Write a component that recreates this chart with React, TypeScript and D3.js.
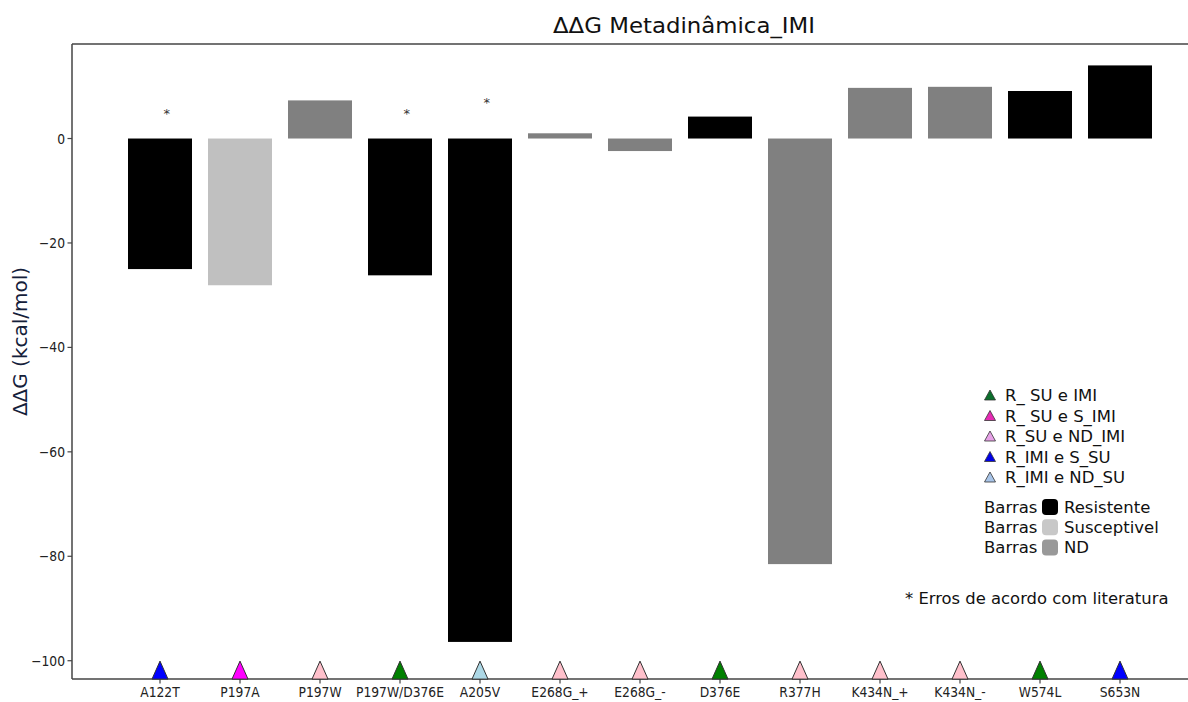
import React from "react";
import * as d3 from "d3";

// Mutations and their ΔΔG values (kcal/mol)
const categories = [
  "A122T", "P197A", "P197W", "P197W/D376E", "A205V", "E268G_+", "E268G_-",
  "D376E", "R377H", "K434N_+", "K434N_-", "W574L", "S653N",
];
const ddgValues = [-25.0, -28.1, 7.3, -26.2, -96.4, 1.0, -2.4, 4.2, -81.5, 9.7, 9.9, 9.1, 14.0];
// Bar class: R = Resistente, S = Susceptivel, ND = não determinado
const barClasses = ["R", "S", "ND", "R", "R", "ND", "ND", "R", "ND", "ND", "ND", "R", "R"];
// Resistance profile of each mutation (triangle marker on the axis)
const profiles = [
  "R_IMI e S_SU", "R_ SU e S_IMI", "R_SU e ND_IMI", "R_ SU e IMI", "R_IMI e ND_SU",
  "R_SU e ND_IMI", "R_SU e ND_IMI", "R_ SU e IMI", "R_SU e ND_IMI", "R_SU e ND_IMI",
  "R_SU e ND_IMI", "R_ SU e IMI", "R_IMI e S_SU",
];
// Mutations flagged as disagreeing with literature, and the height of the flag
const flaggedIdx = [0, 3, 4];
const flaggedY = [4, 4, 6];

const yTicks = [-100, -80, -60, -40, -20, 0];
const markerY = -101.8;

const legendProfiles = ["R_ SU e IMI", "R_ SU e S_IMI", "R_SU e ND_IMI", "R_IMI e S_SU", "R_IMI e ND_SU"];
const legendBars = ["Resistente", "Susceptivel", "ND"];

const barColor: Record<string, string> = { R: "#000000", S: "#c0c0c0", ND: "#808080" };
const markerColor: Record<string, string> = {
  "R_ SU e IMI": "#008000",
  "R_ SU e S_IMI": "#ff00ff",
  "R_SU e ND_IMI": "#ffc0cb",
  "R_IMI e S_SU": "#0000ff",
  "R_IMI e ND_SU": "#add8e6",
};
const legendMarkerColor: Record<string, string> = {
  "R_ SU e IMI": "#0b6e2c",
  "R_ SU e S_IMI": "#e62ab4",
  "R_SU e ND_IMI": "#e6a0e6",
  "R_IMI e S_SU": "#0000e6",
  "R_IMI e ND_SU": "#a8c4e8",
};
const legendBarColor: Record<string, string> = { Resistente: "#000000", Susceptivel: "#c8c8c8", ND: "#999999" };

const W = 1188;
const H = 702;
const FONT = "'DejaVu Sans', Verdana, sans-serif";

export default function App() {
  const left = 72, right = 1296, top = 44, bottom = 679;
  const x = d3.scaleLinear().domain([-1.1, 14.2]).range([left, right]);
  const y = d3.scaleLinear().domain([-103.5, 18.1]).range([bottom, top]);
  const barW = x(0.8) - x(0);

  const tri = (cx: number, cy: number, hw: number, hh: number) => {
    const p = d3.path();
    p.moveTo(cx, cy - hh);
    p.lineTo(cx + hw, cy + hh);
    p.lineTo(cx - hw, cy + hh);
    p.closePath();
    return p.toString();
  };

  const legX = 990;
  const legY0 = 395;
  const legStep = 20.5;
  const legFont = 16.5;

  return (
    <svg width={W} height={H} style={{ position: "absolute", left: 0, top: 0, background: "#fff" }}
      fontFamily={FONT}>
      <rect x={0} y={0} width={W} height={H} fill="#fff" />
      {/* title */}
      <text x={(left + right) / 2} y={33} textAnchor="middle" fontSize={22} fill="#111"
        textLength={262} lengthAdjust="spacingAndGlyphs">
        ΔΔG Metadinâmica_IMI
      </text>

      {/* bars */}
      {ddgValues.map((v, i) => (
        <rect key={categories[i]} x={x(i) - barW / 2} y={y(Math.max(0, v))}
          width={barW} height={Math.abs(y(v) - y(0))} fill={barColor[barClasses[i]]} />
      ))}

      {/* literature flags */}
      {flaggedIdx.map((idx, k) => (
        <text key={idx} x={x(idx) + 3.5} y={y(flaggedY[k])} fontSize={13} fill="#333">*</text>
      ))}

      {/* spines */}
      <line x1={left} x2={left} y1={top} y2={bottom} stroke="#444" strokeWidth={1.5} />
      <line x1={left} x2={right} y1={top} y2={top} stroke="#444" strokeWidth={1.5} />
      <line x1={left} x2={right} y1={bottom} y2={bottom} stroke="#444" strokeWidth={1.5} />

      {/* y axis */}
      {yTicks.map((t) => (
        <g key={t}>
          <line x1={left - 4.5} x2={left} y1={y(t)} y2={y(t)} stroke="#444" strokeWidth={1.2} />
          <text transform={`translate(${left - 7}, ${y(t) + 5}) scale(0.88, 1)`} textAnchor="end"
            fontSize={14} fill="#222">
            {t < 0 ? `\u2212${Math.abs(t)}` : `${t}`}
          </text>
        </g>
      ))}
      <text transform={`translate(27, ${(top + bottom) / 2 - 20}) rotate(-90)`} textAnchor="middle"
        fontSize={20} fill="#14203a">ΔΔG (kcal/mol)</text>

      {/* x axis */}
      {categories.map((c, i) => (
        <g key={c}>
          <line x1={x(i)} x2={x(i)} y1={bottom} y2={bottom + 4.5} stroke="#444" strokeWidth={1.2} />
          <text transform={`translate(${x(i)}, ${bottom + 18}) scale(0.88, 1)`} textAnchor="middle"
            fontSize={14} fill="#222">{c}</text>
        </g>
      ))}

      {/* profile markers */}
      {profiles.map((p, i) => (
        <path key={i} d={tri(x(i), y(markerY), 8, 9)} fill={markerColor[p]}
          stroke="#333" strokeWidth={1} strokeLinejoin="miter" />
      ))}

      {/* legend: profiles */}
      {legendProfiles.map((p, k) => (
        <g key={p}>
          <path d={tri(legX, legY0 + k * legStep, 5.5, 5)} fill={legendMarkerColor[p]} stroke="#333" strokeWidth={0.8} />
          <text x={legX + 15} y={legY0 + k * legStep + 6} fontSize={legFont} fill="#111">{p}</text>
        </g>
      ))}

      {/* legend: bar classes */}
      {legendBars.map((b, k) => {
        const cy = 507 + k * 20.2;
        return (
          <g key={b}>
            <text x={984} y={cy + 6} fontSize={legFont} fill="#111">Barras</text>
            <rect x={1042} y={cy - 8} width={16} height={16} rx={4} fill={legendBarColor[b]} />
            <text x={1064} y={cy + 6} fontSize={legFont} fill="#111">{b}</text>
          </g>
        );
      })}

      <text x={905} y={598 + 6} fontSize={16.4} fill="#111">* Erros de acordo com literatura</text>
    </svg>
  );
}
